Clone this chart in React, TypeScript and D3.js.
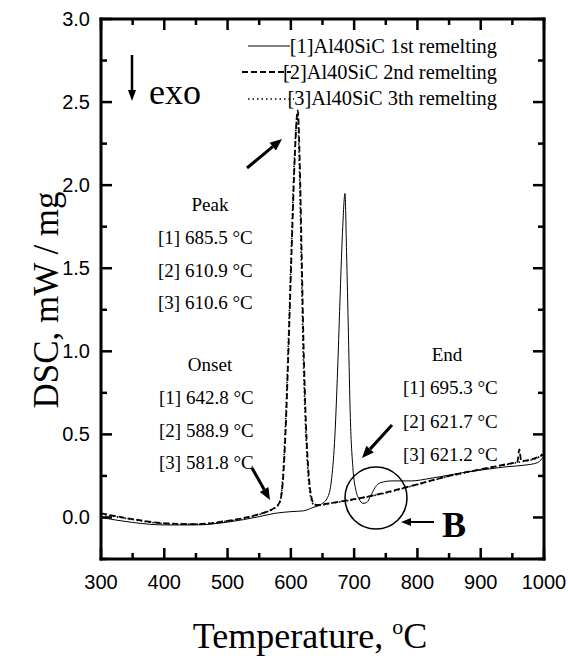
import React from "react";
import * as d3 from "d3";

// DSC traces of Al40SiC: [temperature °C, heat flow mW/mg]
const run1: [number, number][] = [
  [300, 0.0], [350, -0.03], [400, -0.045], [450, -0.045], [500, -0.028], [550, 0.005],
  [575, 0.025], [600, 0.035], [620, 0.04], [635, 0.06], [648, 0.08], [658, 0.12],
  [664, 0.22], [669, 0.45], [674, 0.9], [678, 1.35], [682, 1.75], [685.5, 1.95],
  [688, 1.6], [691, 1.1], [694, 0.6], [698, 0.3], [703, 0.16], [708, 0.11],
  [714, 0.085], [720, 0.09], [726, 0.13], [733, 0.18], [742, 0.21], [760, 0.22],
  [790, 0.22], [820, 0.235], [850, 0.255], [880, 0.275], [910, 0.29], [940, 0.305],
  [970, 0.315], [990, 0.33], [1000, 0.37],
];

const run2: [number, number][] = [
  [300, 0.025], [350, -0.01], [400, -0.035], [450, -0.04], [500, -0.02], [540, 0.01],
  [565, 0.04], [575, 0.06], [582, 0.09], [587, 0.2], [592, 0.55], [597, 1.1],
  [602, 1.7], [606, 2.15], [610.9, 2.45], [614, 2.15], [617, 1.6], [620, 1.05],
  [624, 0.55], [628, 0.27], [632, 0.13], [637, 0.08], [642, 0.075], [660, 0.085],
  [700, 0.11], [750, 0.15], [800, 0.2], [850, 0.25], [900, 0.29], [940, 0.32],
  [958, 0.335], [961, 0.41], [964, 0.34], [985, 0.355], [1000, 0.38],
];

const run3: [number, number][] = [
  [300, 0.02], [350, -0.012], [400, -0.037], [450, -0.04], [500, -0.022], [540, 0.008],
  [565, 0.038], [575, 0.058], [581.8, 0.085], [586, 0.18], [591, 0.52], [596, 1.05],
  [601, 1.65], [605, 2.1], [610.6, 2.42], [613.5, 2.1], [616.5, 1.55], [619.5, 1.0],
  [623.5, 0.52], [627.5, 0.25], [631.5, 0.12], [636, 0.078], [642, 0.072], [660, 0.083],
  [700, 0.108], [750, 0.148], [800, 0.198], [850, 0.248], [900, 0.288], [940, 0.318],
  [970, 0.34], [990, 0.36], [1000, 0.39],
];

const legendLabels = [
  "[1]Al40SiC 1st remelting",
  "[2]Al40SiC 2nd remelting",
  "[3]Al40SiC 3th remelting",
];

const peakLabels = ["[1] 685.5", "[2] 610.9", "[3] 610.6"];
const onsetLabels = ["[1] 642.8", "[2] 588.9", "[3] 581.8"];
const endLabels = ["[1] 695.3", "[2] 621.7", "[3] 621.2"];

const xMajor = [300, 400, 500, 600, 700, 800, 900, 1000];
const xMinor = [350, 450, 550, 650, 750, 850, 950];
const yMajor = [0, 0.5, 1.0, 1.5, 2.0, 2.5, 3.0];
const yMinor = [-0.25, 0.25, 0.75, 1.25, 1.75, 2.25, 2.75];

const serif = "'Liberation Serif', 'Times New Roman', serif";
const sans = "'Liberation Sans', Arial, sans-serif";

const plotL = 101, plotR = 544, plotT = 19, plotB = 559;
const majLen = 11, minLen = 6, tickW = 2.5, frameW = 3;

function Arrow({ x1, y1, x2, y2, w = 3, head = 12, hw = 5 }: any) {
  const a = Math.atan2(y2 - y1, x2 - x1);
  const bx = x2 - head * Math.cos(a), by = y2 - head * Math.sin(a);
  const px = -Math.sin(a) * hw, py = Math.cos(a) * hw;
  return (
    <g>
      <line x1={x1} y1={y1} x2={bx} y2={by} stroke="#000" strokeWidth={w} />
      <polygon points={`${x2},${y2} ${bx + px},${by + py} ${bx - px},${by - py}`} fill="#000" />
    </g>
  );
}

export default function App() {
  const x = d3.scaleLinear().domain([300, 1000]).range([plotL, plotR]);
  const y = d3.scaleLinear().domain([-0.25, 3.0]).range([plotB, plotT]);
  const line = d3
    .line<[number, number]>()
    .x((d) => x(d[0]))
    .y((d) => y(d[1]))
    .curve(d3.curveMonotoneX);

  const fx0 = x(300), fx1 = x(1000), fy0 = y(-0.25), fy1 = y(3.0);
  const h = frameW / 2, tw = tickW / 2;

  // frame edges and inward tick marks as filled bars
  const bars: { key: string; x: number; y: number; w: number; h: number }[] = [
    { key: "fb", x: fx0 - h, y: fy0 - h, w: fx1 - fx0 + frameW, h: frameW },
    { key: "ft", x: fx0 - h, y: fy1 - h, w: fx1 - fx0 + frameW, h: frameW },
    { key: "fl", x: fx0 - h, y: fy1 - h, w: frameW, h: fy0 - fy1 + frameW },
    { key: "fr", x: fx1 - h, y: fy1 - h, w: frameW, h: fy0 - fy1 + frameW },
  ];
  xMajor.concat(xMinor).forEach((t) => {
    const len = xMajor.includes(t) ? majLen : minLen;
    bars.push({ key: "xb" + t, x: x(t) - tw, y: fy0 - len, w: tickW, h: len });
    bars.push({ key: "xt" + t, x: x(t) - tw, y: fy1, w: tickW, h: len });
  });
  yMajor.concat(yMinor).forEach((v) => {
    const len = yMajor.includes(v) ? majLen : minLen;
    bars.push({ key: "yl" + v, x: fx0, y: y(v) - tw, w: len, h: tickW });
    bars.push({ key: "yr" + v, x: fx1 - len, y: y(v) - tw, w: len, h: tickW });
  });

  const deg = (label: string, px: number, py: number, size: number) => (
    <text key={label} x={px} y={py} fontFamily={serif} fontSize={size}>
      {label} °C
    </text>
  );

  return (
    <svg width={568} height={660} style={{ position: "absolute", left: 0, top: 0 }}>
      {/* frame and ticks */}
      {bars.map((b) => (
        <rect key={b.key} x={b.x} y={b.y} width={b.w} height={b.h} fill="#000" />
      ))}

      {/* curves */}
      <path d={line(run1) ?? ""} fill="none" stroke="#000" strokeWidth={1} />
      <path d={line(run2) ?? ""} fill="none" stroke="#000" strokeWidth={1.8} strokeDasharray="6 3" />
      <path d={line(run3) ?? ""} fill="none" stroke="#000" strokeWidth={1.6} strokeDasharray="1.5 2.5" />

      {/* tick labels */}
      {xMajor.map((t) => (
        <text key={"xl" + t} x={x(t)} y={589} fontFamily={sans} fontSize={20} textAnchor="middle">
          {t}
        </text>
      ))}
      {yMajor.map((v) => (
        <text key={"yl" + v} x={90} y={y(v) + 7} fontFamily={sans} fontSize={20} textAnchor="end">
          {d3.format(".1f")(v)}
        </text>
      ))}

      {/* axis titles */}
      <text x={310} y={648} fontFamily={serif} fontSize={36} textAnchor="middle">
        Temperature,{"  "}
        <tspan fontSize={22} dy={-14}>o</tspan>
        <tspan dy={14}>C</tspan>
      </text>
      <text transform="translate(58,300) rotate(-90)" fontFamily={serif} fontSize={35} textAnchor="middle">
        DSC, mW / mg
      </text>

      {/* legend */}
      {legendLabels.map((lab, i) => (
        <text key={lab} x={497} y={53 + i * 26} fontFamily={serif} fontSize={20.4} textAnchor="end">
          {lab}
        </text>
      ))}
      <line x1={248} x2={290} y1={46} y2={46} stroke="#000" strokeWidth={1} />
      <line x1={242} x2={291} y1={72} y2={72} stroke="#000" strokeWidth={1.8} strokeDasharray="6 3" />
      <line x1={248} x2={294} y1={99} y2={99} stroke="#000" strokeWidth={1.4} strokeDasharray="1.5 3" />

      {/* exo direction */}
      <Arrow x1={132} y1={55} x2={132} y2={101} w={2.5} head={11} hw={4} />
      <text x={149} y={104} fontFamily={serif} fontSize={36}>
        exo
      </text>

      {/* characteristic temperatures */}
      <text x={210} y={211} fontFamily={serif} fontSize={19} textAnchor="middle">Peak</text>
      {peakLabels.map((l, i) => deg(l, 158, 244 + i * 32.5, 19))}
      <text x={210} y={371} fontFamily={serif} fontSize={19} textAnchor="middle">Onset</text>
      {onsetLabels.map((l, i) => deg(l, 159, 404 + i * 32.5, 19))}
      <text x={447} y={361} fontFamily={serif} fontSize={19} textAnchor="middle">End</text>
      {endLabels.map((l, i) => deg(l, 403, 394 + i * 33.5, 19))}

      {/* pointers */}
      <Arrow x1={247} y1={168} x2={282} y2={139} />
      <Arrow x1={252} y1={468} x2={270} y2={500} />
      <Arrow x1={392} y1={425} x2={362} y2={458} />

      {/* region B */}
      <circle cx={376} cy={498} r={31} fill="none" stroke="#000" strokeWidth={1.5} />
      <Arrow x1={434} y1={522} x2={401} y2={522} w={2} head={10} hw={4} />
      <text x={442} y={537} fontFamily={serif} fontSize={36} fontWeight="bold">
        B
      </text>
    </svg>
  );
}
